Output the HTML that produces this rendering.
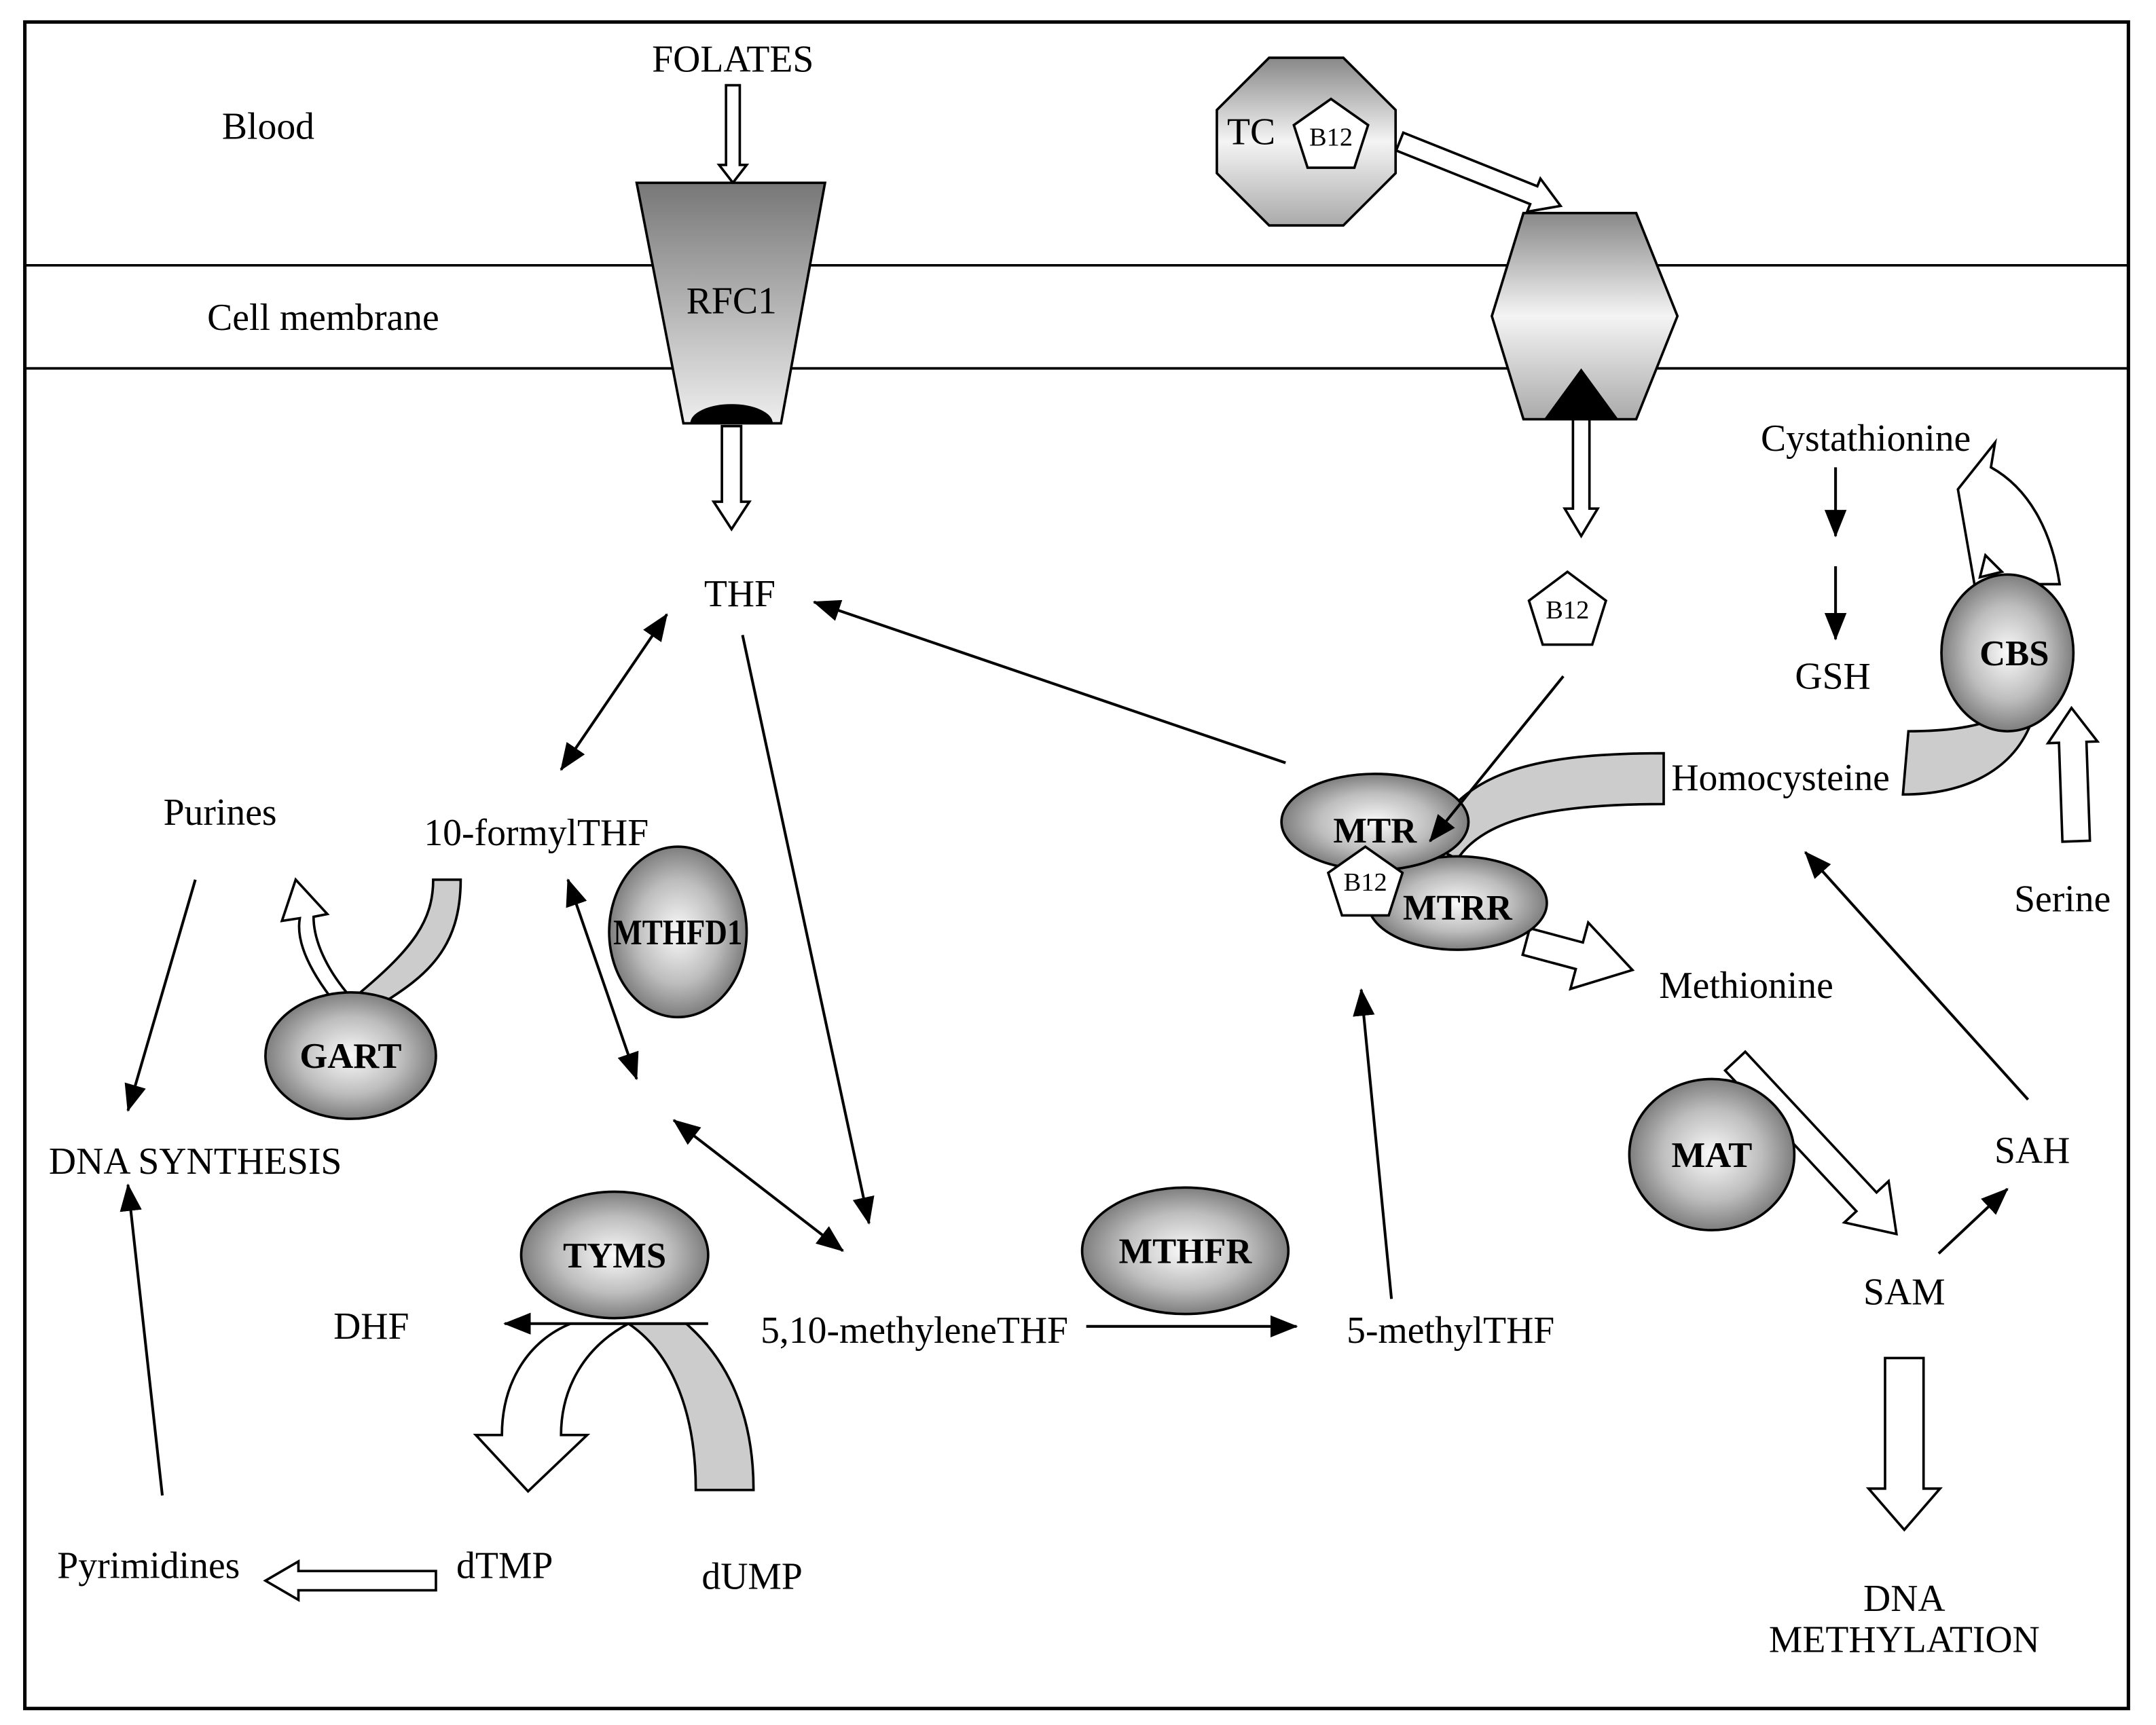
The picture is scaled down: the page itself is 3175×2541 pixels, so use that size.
<!DOCTYPE html>
<html><head><meta charset="utf-8"><style>
html,body{margin:0;padding:0;background:#fff;}
svg{display:block;}
text{font-family:"Liberation Serif",serif;font-size:27.5px;fill:#000;}
.e{font-size:26px;font-weight:bold;}
.b{font-size:19px;}
</style></head><body>
<svg width="3175" height="2541" viewBox="0 0 1568 1255" xmlns="http://www.w3.org/2000/svg">
<defs>
<radialGradient id="eg" cx="50%" cy="50%" r="55%">
<stop offset="0" stop-color="#fafafa"/><stop offset="0.55" stop-color="#bdbdbd"/><stop offset="1" stop-color="#6e6e6e"/></radialGradient>
<linearGradient id="lg" x1="0" y1="0" x2="0" y2="1">
<stop offset="0" stop-color="#777"/><stop offset="1" stop-color="#eee"/></linearGradient>
<linearGradient id="hg" x1="0" y1="0" x2="0" y2="1">
<stop offset="0" stop-color="#888"/><stop offset="0.5" stop-color="#f4f4f4"/><stop offset="1" stop-color="#aaa"/></linearGradient>
<marker id="ah2" markerWidth="20" markerHeight="16" refX="19" refY="8" orient="auto-start-reverse" markerUnits="userSpaceOnUse" viewBox="0 0 20 16">
<path d="M0,0 L20,8 L0,16 z" fill="#000"/></marker>
</defs>
<rect x="18" y="16" width="1530" height="1227" fill="#fff" stroke="#000" stroke-width="2.5"/>
<line x1="18" y1="193" x2="1548" y2="193" stroke="#000" stroke-width="1.8"/>
<line x1="18" y1="268" x2="1548" y2="268" stroke="#000" stroke-width="1.8"/>

<text x="195" y="101" text-anchor="middle">Blood</text>
<text x="235" y="240" text-anchor="middle">Cell membrane</text>
<text x="533" y="52" text-anchor="middle">FOLATES</text>

<g fill="#fff" stroke="#000" stroke-width="1.8">
<g transform="translate(533,62) rotate(90)"><polygon points="0,-5 58,-5 58,-10 71,0 58,10 58,5 0,5"/></g>
<g transform="translate(532,310) rotate(90)"><polygon points="0,-7 55,-7 55,-13 75,0 55,13 55,7 0,7"/></g>
<g transform="translate(1018,103) rotate(21.8)"><polygon points="0,-7 105,-7 105,-13 126,0 105,13 105,7 0,7"/></g>
<g transform="translate(1150,295) rotate(90)"><polygon points="0,-6 75,-6 75,-12 95,0 75,12 75,6 0,6"/></g>
<g transform="translate(317,1150) rotate(180)"><polygon points="0,-7 100,-7 100,-14 124,0 100,14 100,7 0,7"/></g>
<g transform="translate(1510,612) rotate(-92)"><polygon points="0,-10 72,-10 72,-18 97,0 72,18 72,10 0,10"/></g>
<g transform="translate(1262,772) rotate(47)"><polygon points="0,-10 140,-10 140,-22 172,0 140,22 140,10 0,10"/></g>
<g transform="translate(1385,988) rotate(90)"><polygon points="0,-14 95,-14 95,-26 125,0 95,26 95,14 0,14"/></g>
<g transform="translate(1110,685) rotate(15)"><polygon points="0,-10 40,-10 40,-25 80,0 40,25 40,10 0,10"/></g>
</g>

<polygon points="463,133 600,133 568,308 497,308" fill="url(#lg)" stroke="#000" stroke-width="1.8"/>
<path d="M502,308 A30,14 0 0 1 562,308 Z" fill="#000"/>
<text x="532" y="228" text-anchor="middle">RFC1</text>

<polygon points="923,42 977,42 1015,80 1015,126 977,164 923,164 885,126 885,80" fill="url(#hg)" stroke="#000" stroke-width="1.8"/>
<text x="910" y="105" text-anchor="middle">TC</text>
<polygon points="968,72 995,91 985,122 951,122 941,91" fill="#fff" stroke="#000" stroke-width="1.8"/>
<text x="968" y="106" text-anchor="middle" class="b">B12</text>

<polygon points="1108,155 1190,155 1220,230 1190,305 1108,305 1085,230" fill="url(#hg)" stroke="#000" stroke-width="1.8"/>
<polygon points="1150,268 1123,305 1177,305" fill="#000"/>

<polygon points="1140,416 1168,437 1158,469 1122,469 1112,437" fill="#fff" stroke="#000" stroke-width="1.8"/>
<text x="1140" y="450" text-anchor="middle" class="b">B12</text>

<text x="538" y="441" text-anchor="middle">THF</text>
<text x="390" y="615" text-anchor="middle">10-formylTHF</text>
<text x="160" y="600" text-anchor="middle">Purines</text>
<text x="142" y="854" text-anchor="middle">DNA SYNTHESIS</text>
<text x="270" y="974" text-anchor="middle">DHF</text>
<text x="665" y="977" text-anchor="middle">5,10-methyleneTHF</text>
<text x="1055" y="977" text-anchor="middle">5-methylTHF</text>
<text x="108" y="1148" text-anchor="middle">Pyrimidines</text>
<text x="367" y="1148" text-anchor="middle">dTMP</text>
<text x="547" y="1156" text-anchor="middle">dUMP</text>
<text x="1357" y="328" text-anchor="middle">Cystathionine</text>
<text x="1333" y="501" text-anchor="middle">GSH</text>
<text x="1295" y="575" text-anchor="middle">Homocysteine</text>
<text x="1270" y="726" text-anchor="middle">Methionine</text>
<text x="1500" y="663" text-anchor="middle">Serine</text>
<text x="1478" y="846" text-anchor="middle">SAH</text>
<text x="1385" y="949" text-anchor="middle">SAM</text>
<text x="1385" y="1172" text-anchor="middle">DNA</text>
<text x="1385" y="1202" text-anchor="middle">METHYLATION</text>

<g stroke="#000" stroke-width="2" fill="none">
<line x1="485" y1="447" x2="408" y2="560" marker-start="url(#ah2)" marker-end="url(#ah2)"/>
<line x1="540" y1="462" x2="632" y2="890" marker-end="url(#ah2)"/>
<line x1="935" y1="555" x2="592" y2="438" marker-end="url(#ah2)"/>
<line x1="413" y1="640" x2="463" y2="785" marker-start="url(#ah2)" marker-end="url(#ah2)"/>
<line x1="490" y1="815" x2="613" y2="910" marker-start="url(#ah2)" marker-end="url(#ah2)"/>
<line x1="790" y1="965" x2="943" y2="965" marker-end="url(#ah2)"/>
<line x1="1012" y1="945" x2="990" y2="720" marker-end="url(#ah2)"/>
<line x1="118" y1="1088" x2="93" y2="862" marker-end="url(#ah2)"/>
<line x1="142" y1="640" x2="93" y2="808" marker-end="url(#ah2)"/>
<line x1="1335" y1="340" x2="1335" y2="390" marker-end="url(#ah2)"/>
<line x1="1335" y1="412" x2="1335" y2="465" marker-end="url(#ah2)"/>
<line x1="1475" y1="800" x2="1313" y2="620" marker-end="url(#ah2)"/>
<line x1="1410" y1="912" x2="1460" y2="865" marker-end="url(#ah2)"/>
</g>

<path d="M335,640 C335,690 310,710 278,730 L262,722 C300,690 315,670 315,640 Z" fill="#ccc" stroke="#000" stroke-width="1.8"/>
<path d="M240,725 C225,705 215,685 218,668 L205,670 L215,640 L238,665 L228,667 C228,685 238,705 252,722 Z" fill="#fff" stroke="#000" stroke-width="1.8"/>
<ellipse cx="255" cy="768" rx="62" ry="46" fill="url(#eg)" stroke="#000" stroke-width="1.8"/>
<text x="255" y="777" text-anchor="middle" class="e">GART</text>

<ellipse cx="493" cy="678" rx="50" ry="62" fill="url(#eg)" stroke="#000" stroke-width="1.8"/>
<text x="493" y="687" text-anchor="middle" class="e" textLength="94" lengthAdjust="spacingAndGlyphs">MTHFD1</text>

<!-- TYMS arcs -->
<path d="M499,963 C530,990 548,1030 548,1084 L506,1084 C506,1030 490,985 457,963 Z" fill="#ccc" stroke="#000" stroke-width="1.8"/>
<path d="M457,963 C425,980 408,1010 408,1044 L427,1044 L384,1085 L346,1044 L365,1044 C365,1005 385,975 415,963 Z" fill="#fff" stroke="#000" stroke-width="1.8"/>
<line x1="515" y1="963" x2="367" y2="963" stroke="#000" stroke-width="2" marker-end="url(#ah2)"/>
<ellipse cx="447" cy="913" rx="68" ry="46" fill="url(#eg)" stroke="#000" stroke-width="1.8"/>
<text x="447" y="922" text-anchor="middle" class="e">TYMS</text>

<ellipse cx="862" cy="910" rx="75" ry="46" fill="url(#eg)" stroke="#000" stroke-width="1.8"/>
<text x="862" y="919" text-anchor="middle" class="e">MTHFR</text>

<path d="M1040,615 C1060,560 1120,548 1210,548 L1210,585 C1130,585 1080,595 1060,625 Z" fill="#ccc" stroke="#000" stroke-width="1.8"/>
<ellipse cx="1060" cy="657" rx="65" ry="34" fill="url(#eg)" stroke="#000" stroke-width="1.8"/>
<ellipse cx="1000" cy="598" rx="68" ry="35" fill="url(#eg)" stroke="#000" stroke-width="1.8"/>
<text x="1000" y="613" text-anchor="middle" class="e">MTR</text>
<text x="1060" y="669" text-anchor="middle" class="e">MTRR</text>
<line x1="1137" y1="492" x2="1040" y2="612" stroke="#000" stroke-width="2" marker-end="url(#ah2)"/>
<polygon points="993,616 1020,635 1010,666 976,666 966,635" fill="#fff" stroke="#000" stroke-width="1.8"/>
<text x="993" y="648" text-anchor="middle" class="b">B12</text>

<!-- CBS arcs -->
<path d="M1384,578 L1388,532 C1410,532 1432,530 1448,524 L1478,524 C1465,560 1430,578 1384,578 Z" fill="#ccc" stroke="#000" stroke-width="1.8"/>
<path d="M1436,425 L1424,356 L1451,322 L1448,340 C1475,355 1492,385 1498,425 Z" fill="#fff" stroke="#000" stroke-width="1.8"/>
<polygon points="1440,420 1444,404 1456,416" fill="#fff" stroke="#000" stroke-width="1.8"/>
<ellipse cx="1460" cy="475" rx="48" ry="57" fill="url(#eg)" stroke="#000" stroke-width="1.8"/>
<text x="1465" y="484" text-anchor="middle" class="e">CBS</text>

<ellipse cx="1245" cy="840" rx="60" ry="55" fill="url(#eg)" stroke="#000" stroke-width="1.8"/>
<text x="1245" y="849" text-anchor="middle" class="e">MAT</text>
</svg>
</body></html>
